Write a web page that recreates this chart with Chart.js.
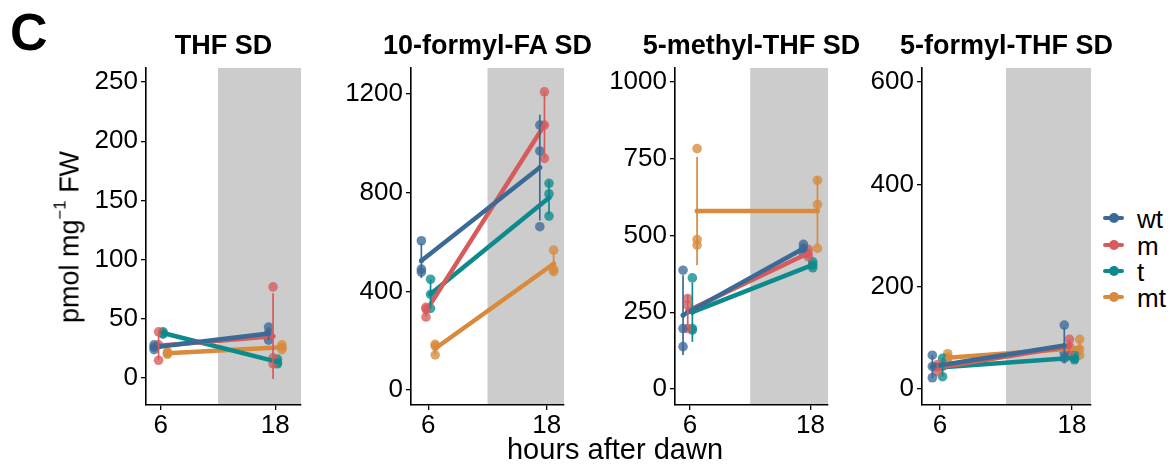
<!DOCTYPE html>
<html><head><meta charset="utf-8">
<script src="https://cdn.jsdelivr.net/npm/chart.js@4/dist/chart.umd.min.js"></script>
<style>
html,body{margin:0;padding:0;background:#fff}
body{width:1176px;height:466px;position:relative;overflow:hidden;font-family:"Liberation Sans",Arial,sans-serif;color:#000}
canvas{position:absolute;top:0}
.txt{position:absolute;white-space:nowrap;line-height:1}
</style></head><body>
<script>
// ---------- data ----------
const times = [6, 18];                       // hours after dawn
const genotypes = ['wt', 'm', 't', 'mt'];
const colors = ['#3b6a97', '#d65b5c', '#0d8b8c', '#d98a3c'];
const dodge = [-0.7, -0.23, 0.23, 0.7];      // position dodge (hours)
const panelTitles = ['THF SD', '10-formyl-FA SD', '5-methyl-THF SD', '5-formyl-THF SD'];
const xTicks = [6, 18];
const yTicksTHF = [0, 50, 100, 150, 200, 250];
const yTicksFA = [0, 400, 800, 1200];
const yTicksMe = [0, 250, 500, 750, 1000];
const yTicksFo = [0, 200, 400, 600];
// replicates: [values at 6 h, values at 18 h]
const thfWt = [[24, 26, 28], [43, 38, 32]];
const thfM  = [[39, 28, 15], [77, 17, 12]];
const thfT  = [[37, 38, 39], [16, 13, 12]];
const thfMt = [[20, 21, 22], [24, 26, 28]];
const faWt = [[605, 490, 478], [1074, 969, 662]];
const faM  = [[328, 296, 335], [1209, 1074, 939]];
const faT  = [[449, 388, 331], [838, 795, 705]];
const faMt = [[185, 178, 142], [567, 489, 480]];
const meWt = [[387, 197, 138], [471, 459, 443]];
const meM  = [[295, 273, 197], [455, 441, 431]];
const meT  = [[362, 197, 192], [414, 395, 404]];
const meMt = [[783, 487, 469], [680, 601, 458]];
const foWt = [[66, 44, 22], [125, 70, 60]];
const foM  = [[48, 34, 43], [97, 83, 70]];
const foT  = [[60, 44, 24], [57, 66, 60]];
const foMt = [[69, 62, 52], [97, 78, 66]];
const nightStart = 12;

// ---------- layout ----------
const T = 68, B = 405, YW = 80, XH = 45, PR = 10, H = 466;
const panels = [
  {title: panelTitles[0], reps: [thfWt, thfM, thfT, thfMt], yTicks: yTicksTHF, ymin: -22.8, ymax: 261.8, xmin: 4.45, xmax: 20.7, L: 146, R: 301},
  {title: panelTitles[1], reps: [faWt, faM, faT, faMt], yTicks: yTicksFA, ymin: -60.8, ymax: 1305.4, xmin: 4.25, xmax: 19.75, L: 411, R: 564},
  {title: panelTitles[2], reps: [meWt, meM, meT, meMt], yTicks: yTicksMe, ymin: -52, ymax: 1045.6, xmin: 4.5, xmax: 19.75, L: 675, R: 828},
  {title: panelTitles[3], reps: [foWt, foM, foT, foMt], yTicks: yTicksFo, ymin: -31.3, ymax: 627.4, xmin: 4.36, xmax: 19.73, L: 922, R: 1091}
];

function mean(a){ return a.reduce((s, v) => s + v, 0) / a.length; }
function sd(a){ const m = mean(a); return Math.sqrt(a.reduce((s, v) => s + (v - m) * (v - m), 0) / (a.length - 1)); }
function rgba(hex, al){ const n = parseInt(hex.slice(1), 16); return `rgba(${n >> 16},${(n >> 8) & 255},${n & 255},${al})`; }

const nightPlugin = {
  id: 'night',
  beforeDraw(chart){
    const a = chart.chartArea, x = chart.scales.x;
    const x0 = x.getPixelForValue(nightStart);
    const ctx = chart.ctx;
    ctx.save(); ctx.fillStyle = '#cccccc';
    ctx.fillRect(x0, a.top, a.right - x0, a.bottom - a.top);
    ctx.restore();
  }
};

const FONT = '"Liberation Sans", Arial, sans-serif';
function addText(html, css){
  const d = document.createElement('div'); d.className = 'txt'; d.innerHTML = html;
  Object.assign(d.style, css); document.body.appendChild(d); return d;
}

panels.forEach((p, pi) => {
  const cv = document.createElement('canvas');
  const w = p.R - p.L + YW + PR;
  cv.width = w; cv.height = H;
  cv.style.left = (p.L - YW) + 'px'; cv.style.width = w + 'px'; cv.style.height = H + 'px';
  document.body.appendChild(cv);

  const datasets = [];
  genotypes.forEach((g, gi) => {
    const col = colors[gi], off = dodge[gi], reps = p.reps[gi];
    datasets.push({
      label: g + ' replicates',
      data: times.flatMap((t, ti) => reps[ti].map(v => ({x: t + off, y: v}))),
      showLine: false, pointRadius: 4.8, pointHoverRadius: 4.8,
      backgroundColor: rgba(col, 0.78), borderWidth: 0, order: 3
    });
    datasets.push({
      label: g,
      data: times.map((t, ti) => ({x: t + off, y: mean(reps[ti])})),
      showLine: true, borderColor: col, backgroundColor: col, borderWidth: 4.5,
      pointRadius: 2.5, pointBorderWidth: 0, borderCapStyle: 'round', order: 2
    });
    times.forEach((t, ti) => {
      const m = mean(reps[ti]), s = sd(reps[ti]);
      datasets.push({
        label: g + ' sd ' + t,
        data: [{x: t + off, y: m - s}, {x: t + off, y: m + s}],
        showLine: true, borderColor: col, borderWidth: 1.7, pointRadius: 0, order: 1
      });
    });
  });

  const axisCommon = {
    type: 'linear',
    grid: {display: true, drawOnChartArea: false, drawTicks: true, tickLength: 5, color: '#000', lineWidth: 1.3},
    border: {display: true, color: '#000', width: 1.6}
  };

  new Chart(cv, {
    type: 'scatter',
    data: {datasets},
    plugins: [nightPlugin],
    options: {
      responsive: false, animation: false, devicePixelRatio: 1,
      layout: {padding: {left: 0, right: PR, top: T, bottom: H - B - XH}},
      plugins: {legend: {display: false}, tooltip: {enabled: false}, title: {display: false}},
      scales: {
        x: Object.assign({}, axisCommon, {
          position: 'bottom', min: p.xmin, max: p.xmax,
          afterBuildTicks: s => { s.ticks = xTicks.map(v => ({value: v})); },
          afterFit: s => { s.height = XH; },
          ticks: {color: '#000', font: {family: FONT, size: 26}, padding: 0, maxRotation: 0, autoSkip: false, callback: v => String(v)}
        }),
        y: Object.assign({}, axisCommon, {
          position: 'left', min: p.ymin, max: p.ymax,
          afterBuildTicks: s => { s.ticks = p.yTicks.map(v => ({value: v})); },
          afterFit: s => { s.width = YW; },
          ticks: {color: '#000', font: {family: FONT, size: 26}, padding: 3, autoSkip: false, callback: v => String(v)}
        })
      }
    }
  });

  addText(p.title, {left: ((p.L + p.R) / 2) + 'px', top: '32px', fontSize: '27px', fontWeight: 'bold', transform: 'translateX(-50%)'});
});

// panel letter, axis titles
addText('C', {left: '10px', top: '6px', fontSize: '52px', fontWeight: 'bold'});
addText('hours after dawn', {left: '615px', top: '435px', fontSize: '29px', transform: 'translateX(-50%)'});
addText('pmol mg<sup style="font-size:0.62em;vertical-align:0.75em;line-height:0">−1</sup> FW',
  {left: '70px', top: '237px', fontSize: '27px', transform: 'translate(-50%,-50%) rotate(-90deg)'});

// legend
const legY = [218, 245, 271, 297];
genotypes.forEach((g, gi) => {
  const bar = document.createElement('div');
  Object.assign(bar.style, {position: 'absolute', left: '1103px', top: (legY[gi] - 2) + 'px', width: '21px', height: '4px', background: colors[gi], borderRadius: '2px'});
  document.body.appendChild(bar);
  const dot = document.createElement('div');
  Object.assign(dot.style, {position: 'absolute', left: (1113.5 - 5) + 'px', top: (legY[gi] - 5) + 'px', width: '10px', height: '10px', background: colors[gi], borderRadius: '50%'});
  document.body.appendChild(dot);
  addText(g, {left: '1137px', top: (legY[gi] - 12) + 'px', fontSize: '26px'});
});
</script>
</body></html>
